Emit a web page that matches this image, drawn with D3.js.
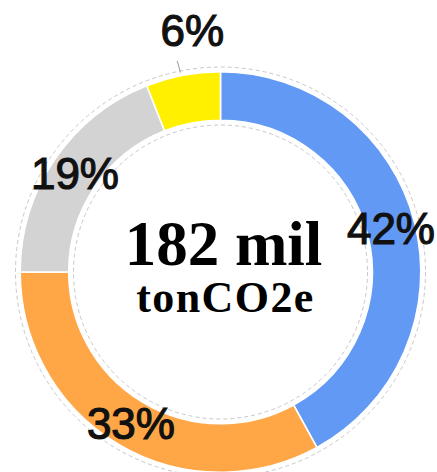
<!DOCTYPE html>
<html>
<head>
<meta charset="utf-8">
<script src="https://cdn.jsdelivr.net/npm/d3@7"></script>
<style>
  html, body { margin: 0; padding: 0; background: #fff; }
  svg { display: block; }
</style>
</head>
<body>
<div id="chart"></div>
<script>
// ---- data ----
const categories = ["A", "B", "C", "D"];
const values = [42, 33, 19, 6];
const labels = ["42%", "33%", "19%", "6%"];
const colors = ["#6199F4", "#FFA647", "#D3D3D3", "#FFF000"];
const centerTitle = "182 mil";
const centerSubtitle = "tonCO2e";

// ---- layout ----
const W = 437, H = 472;
const cx = 220.5, cy = 272;
const outerR = 200.3, innerR = 151.8;

const svg = d3.select("#chart").append("svg")
  .attr("width", W).attr("height", H)
  .style("background", "#fff");

const g = svg.append("g").attr("transform", `translate(${cx},${cy})`);

const pie = d3.pie().sort(null).value(d => d.value);
const data = pie(categories.map((c, i) => ({ cat: c, value: values[i], label: labels[i], color: colors[i] })));

const arc = d3.arc().innerRadius(innerR).outerRadius(outerR);

// guide dashed circles
g.append("circle").attr("r", 205).attr("fill", "none")
  .attr("stroke", "#c8c8c8").attr("stroke-width", 1).attr("stroke-dasharray", "4,3");
g.append("circle").attr("r", 147).attr("fill", "none")
  .attr("stroke", "#c8c8c8").attr("stroke-width", 1).attr("stroke-dasharray", "4,3");

g.selectAll("path.slice").data(data).enter().append("path")
  .attr("class", "slice")
  .attr("d", arc)
  .attr("fill", d => d.data.color)
  .attr("stroke", "#fff")
  .attr("stroke-width", 1.6);

// labels
const fs = 44;
const labelArc = d3.arc().innerRadius(176).outerRadius(176);
const smallThreshold = 10;

data.forEach(d => {
  const mid = (d.startAngle + d.endAngle) / 2;
  if (d.data.value >= smallThreshold) {
    const [x, y] = labelArc.centroid(d);
    g.append("text")
      .attr("x", x).attr("y", y + 0.358 * fs)
      .attr("text-anchor", "middle")
      .attr("font-family", "'Liberation Sans', Arial, sans-serif")
      .attr("font-size", fs)
      .attr("fill", "#111")
      .attr("stroke", "#111").attr("stroke-width", 1.2)
      .text(d.data.label);
  } else {
    const p1 = [Math.sin(mid) * 203, -Math.cos(mid) * 203];
    const p2 = [Math.sin(mid) * 215, -Math.cos(mid) * 215];
    g.append("path")
      .attr("d", `M${p1[0] - 2},${p1[1]}L${p2[0] - 3},${p2[1]}`)
      .attr("stroke", "#999").attr("stroke-width", 1).attr("fill", "none");
    g.append("text")
      .attr("x", p2[0] + 12).attr("y", p2[1] - 15)
      .attr("text-anchor", "middle")
      .attr("font-family", "'Liberation Sans', Arial, sans-serif")
      .attr("font-size", fs)
      .attr("fill", "#111")
      .attr("stroke", "#111").attr("stroke-width", 1.2)
      .text(d.data.label);
  }
});

// center text
g.append("text")
  .attr("x", 3).attr("y", -7)
  .attr("text-anchor", "middle")
  .attr("font-family", "'Liberation Serif', 'Times New Roman', serif")
  .attr("font-weight", "bold")
  .attr("font-size", 63)
  .attr("fill", "#000")
  .text(centerTitle);

g.append("text")
  .attr("x", 5).attr("y", 40)
  .attr("text-anchor", "middle")
  .attr("font-family", "'Liberation Serif', 'Times New Roman', serif")
  .attr("font-weight", "bold")
  .attr("font-size", 44)
  .attr("letter-spacing", 1.4)
  .attr("fill", "#000")
  .text(centerSubtitle);
</script>
</body>
</html>
